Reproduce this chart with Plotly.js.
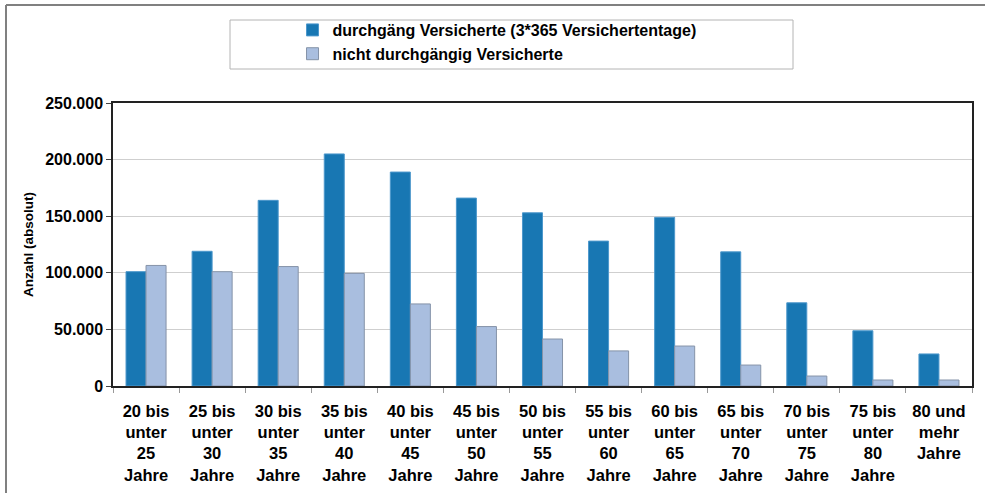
<!DOCTYPE html>
<html>
<head>
<meta charset="utf-8">
<script src="https://cdn.plot.ly/plotly-3.0.1.min.js"></script>
<style>
html,body{margin:0;padding:0;background:#fff;}
#chart{width:985px;height:493px;}
</style>
</head>
<body>
<div id="chart"></div>
<script>
const categories = [
  "20 bis<br>unter<br>25<br>Jahre",
  "25 bis<br>unter<br>30<br>Jahre",
  "30 bis<br>unter<br>35<br>Jahre",
  "35 bis<br>unter<br>40<br>Jahre",
  "40 bis<br>unter<br>45<br>Jahre",
  "45 bis<br>unter<br>50<br>Jahre",
  "50 bis<br>unter<br>55<br>Jahre",
  "55 bis<br>unter<br>60<br>Jahre",
  "60 bis<br>unter<br>65<br>Jahre",
  "65 bis<br>unter<br>70<br>Jahre",
  "70 bis<br>unter<br>75<br>Jahre",
  "75 bis<br>unter<br>80<br>Jahre",
  "80 und<br>mehr<br>Jahre"
];
const durchgaengig = [101000, 119000, 164000, 205000, 189000, 166000, 153000, 128000, 149000, 118500, 73500, 48800, 28300];
const nichtDurchgaengig = [106500, 101000, 105500, 99500, 72500, 52500, 41500, 31000, 35300, 18500, 8800, 5300, 5300];
const seriesNames = ["durchgäng Versicherte (3*365 Versichertentage)", "nicht durchgängig Versicherte"];

const font = "Liberation Sans, Arial, sans-serif";

const traces = [
  {
    type: "bar", x: categories, y: durchgaengig, name: seriesNames[0],
    marker: {color: "#1877b3", line: {color: "#4d98cc", width: 1}},
    hoverinfo: "y"
  },
  {
    type: "bar", x: categories, y: nichtDurchgaengig, name: seriesNames[1],
    marker: {color: "#a9bedf", line: {color: "#8593a8", width: 1}},
    hoverinfo: "y"
  }
];

const layout = {
  width: 985, height: 493,
  margin: {l: 113, r: 13, t: 103, b: 107},
  paper_bgcolor: "#ffffff", plot_bgcolor: "#ffffff",
  separators: ",.",
  barmode: "group", bargap: 0.394, bargroupgap: 0,
  font: {family: font, size: 16, color: "#000"},
  showlegend: true,
  legend: {
    x: 0.209, y: 1.318, xanchor: "left", yanchor: "top",
    bgcolor: "rgba(0,0,0,0)", borderwidth: 0,
    font: {family: font, size: 16, color: "#000", weight: "bold"},
    tracegroupgap: 0, itemclick: false, itemdoubleclick: false
  },
  xaxis: {
    type: "category", tickson: "boundaries",
    ticks: "outside", ticklen: 5, tickcolor: "#999", tickwidth: 1,
    ticklabelstandoff: 9,
    showgrid: false, showline: true, linecolor: "#222", linewidth: 1.5, mirror: true,
    tickfont: {family: font, size: 16.5, color: "#000", weight: "bold"},
    zeroline: false, fixedrange: true
  },
  yaxis: {
    range: [0, 250000], dtick: 50000, tickformat: ",d",
    ticks: "outside", ticklen: 5, tickcolor: "#444",
    showgrid: true, gridcolor: "#cfcfcf", gridwidth: 1,
    showline: true, linecolor: "#222", linewidth: 1.5, mirror: true,
    zeroline: false,
    tickfont: {family: font, size: 16, color: "#000", weight: "bold"},
    title: {text: "Anzahl (absolut)", standoff: 8, font: {family: font, size: 13.5, color: "#000", weight: "bold"}},
    fixedrange: true
  },
  shapes: [
    {type: "rect", xref: "paper", yref: "paper", x0: (230-113)/859, x1: (793-113)/859, y0: (386-69)/283, y1: (386-20)/283,
     line: {color: "#b4b4b4", width: 1}, fillcolor: "rgba(0,0,0,0)", layer: "below"},
    {type: "line", xref: "paper", yref: "paper", x0: (6-113)/859, x1: (985-113)/859, y0: (386-5)/283, y1: (386-5)/283,
     line: {color: "#808080", width: 2}},
    {type: "line", xref: "paper", yref: "paper", x0: (6-113)/859, x1: (6-113)/859, y0: (386-5)/283, y1: (386-493)/283,
     line: {color: "#808080", width: 2}}
  ]
};

Plotly.newPlot("chart", traces, layout, {displayModeBar: false, staticPlot: false});
</script>
</body>
</html>
